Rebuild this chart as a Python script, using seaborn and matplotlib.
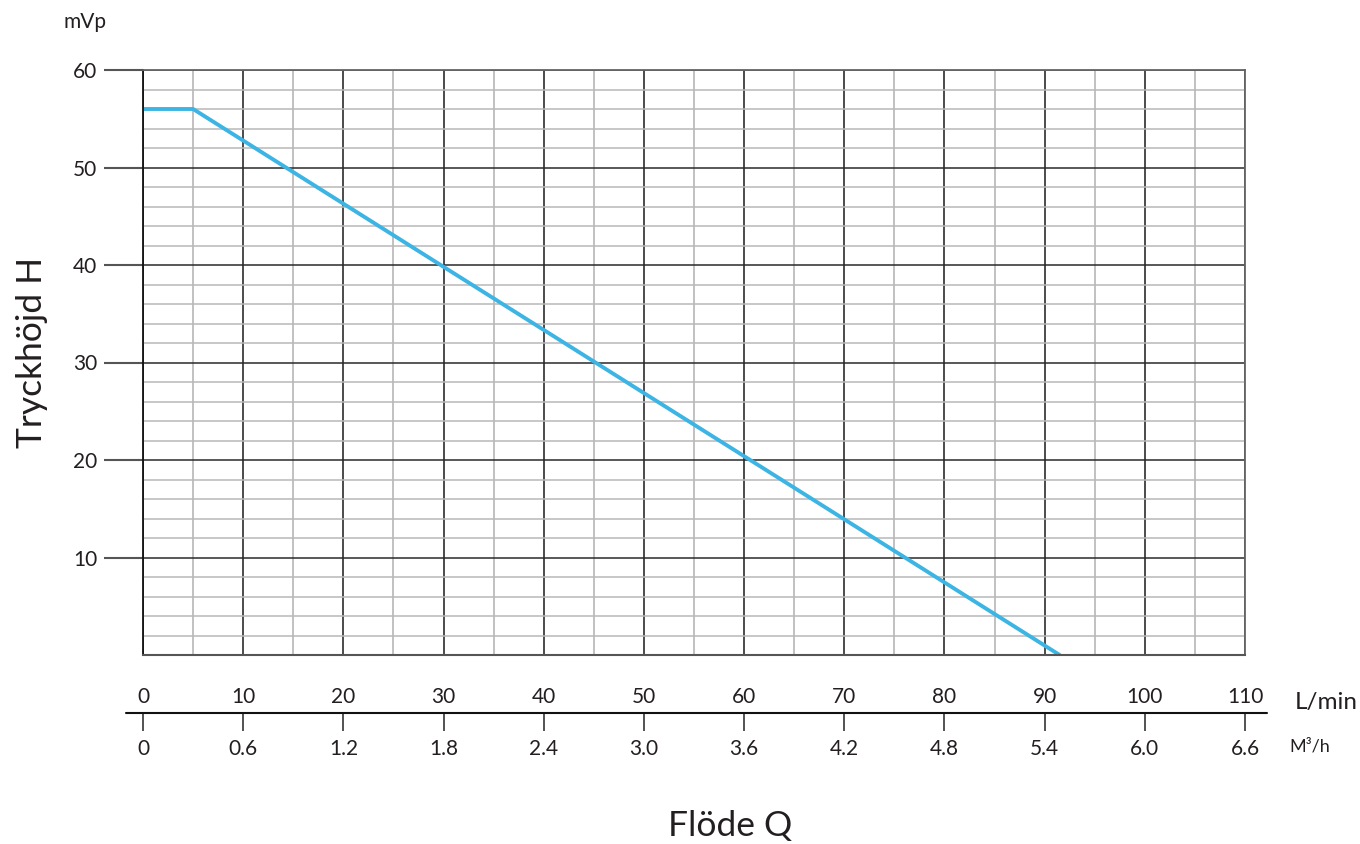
import numpy as np
import matplotlib.pyplot as plt
import seaborn as sns
from matplotlib.ticker import MultipleLocator

# pump curve: flow (L/min) vs head (mVp)
flow = [0, 5, 91.5]
head = [56, 56, 0]

lmin_ticks = [0, 10, 20, 30, 40, 50, 60, 70, 80, 90, 100, 110]
m3h_ticks = [0, 0.6, 1.2, 1.8, 2.4, 3.0, 3.6, 4.2, 4.8, 5.4, 6.0, 6.6]
m3h_labels = ["0", "0.6", "1.2", "1.8", "2.4", "3.0", "3.6", "4.2", "4.8", "5.4", "6.0", "6.6"]
head_ticks = [10, 20, 30, 40, 50, 60]

sns.set_style("white")
plt.rcParams["font.family"] = ["Lato", "DejaVu Sans"]
txt = "#231f20"

fig = plt.figure(figsize=(13.6, 8.44), dpi=100)
ax = fig.add_axes([143/1360, 1 - 655/844, 1102/1360, 585/844])

ax.xaxis.set_minor_locator(MultipleLocator(5))
ax.yaxis.set_minor_locator(MultipleLocator(2))
ax.grid(which="minor", axis="x", color="#b0b0b0", lw=1.1)
ax.grid(which="minor", axis="y", color="#b8b8b8", lw=1.1)
ax.grid(which="major", axis="x", color="#1a1a1a", lw=1.1)
ax.grid(which="major", axis="y", color="#2a2a2a", lw=1.1)
ax.set_axisbelow(True)

sns.lineplot(x=flow, y=head, ax=ax, color="#3cb4e4", lw=2.8,
             solid_capstyle="round", solid_joinstyle="miter")

ax.set_xlim(0, 110)
ax.set_ylim(0, 60)
ax.set_xticks(lmin_ticks)
ax.set_xticklabels([str(t) for t in lmin_ticks])
ax.set_yticks(head_ticks)
ax.tick_params(axis="x", which="major", length=0, pad=23, labelsize=15, labelcolor=txt)
ax.tick_params(axis="y", which="major", length=28, width=1.5, color="#555555",
               pad=5, labelsize=15, labelcolor=txt, left=True)
ax.tick_params(which="minor", length=0)

for s in ["top", "right"]:
    ax.spines[s].set_color("#666666")
    ax.spines[s].set_linewidth(1.3)
ax.spines["left"].set_color("#111111")
ax.spines["left"].set_linewidth(1.3)
ax.spines["bottom"].set_color("#555555")
ax.spines["bottom"].set_linewidth(1.5)

# second flow scale in m3/h
sec = ax.secondary_xaxis(-0.099, functions=(lambda x: x * 0.06, lambda x: x / 0.06))
sec.set_xticks(m3h_ticks)
sec.set_xticklabels(m3h_labels)
sec.tick_params(length=13, width=1.3, color="#444444", pad=6, labelsize=15, labelcolor=txt)
sec.spines["bottom"].set_visible(False)
ax.plot([-0.015, 1.02], [-0.099, -0.099], transform=ax.transAxes, color="#111111",
        lw=1.5, clip_on=False)

fig.text(1295/1360, 1 - 703/844, "L/min", fontsize=17.5, color=txt, va="center", ha="left")
fig.text(1289/1360, 1 - 746/844, "M³/h", fontsize=13, color=txt, va="center", ha="left")
fig.text(85/1360, 1 - 22/844, "mVp", fontsize=15, color=txt, va="center", ha="center")
fig.text(730/1360, 1 - 826/844, "Flöde Q", fontsize=25.5, color=txt, va="center", ha="center")
fig.text(32/1360, 1 - 352/844, "Tryckhöjd H", fontsize=25.5, color=txt, va="center",
         ha="center", rotation=90)

plt.savefig("out.png", dpi=100)
